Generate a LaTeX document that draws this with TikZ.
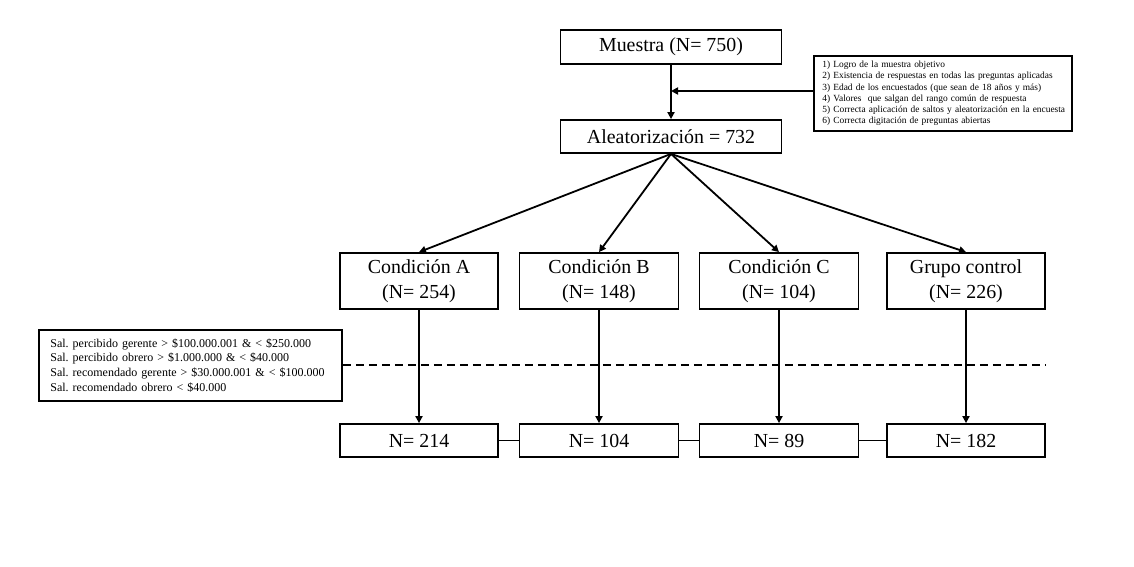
\documentclass[tikz,border=0pt]{standalone}
\usepackage{fontspec}
\setmainfont{Liberation Serif}
\usetikzlibrary{arrows.meta}
\frenchspacing
\begin{document}
\begin{tikzpicture}[x=1pt,y=-1pt,
  box/.style={draw,line width=1.8pt,inner sep=0pt,align=center,font=\fontsize{19.9}{25}\selectfont},
  note/.style={draw,line width=1.8pt,align=left,anchor=north west,inner ysep=0pt},
  arr/.style={line width=1.8pt,-{Triangle[length=7pt,width=7pt]}},
  lnk/.style={line width=1.8pt}]
\useasboundingbox (0,0) rectangle (1134,567);
\node[box,minimum width=221pt,minimum height=34pt] (m) at (671,47) {Muestra (N= 750)};
\node[box,minimum width=221pt,minimum height=33pt] (al) at (671,136.5) {Aleatorización = 732};
\node[note,minimum width=258pt,minimum height=75pt,inner xsep=8.5pt,text width=241pt,font=\fontsize{9.4}{11.2}\selectfont] (crit) at (813,55)
 {\mbox{1) Logro de la muestra objetivo}\\
 \mbox{2) Existencia de respuestas en todas las preguntas aplicadas}\\
 \mbox{3) Edad de los encuestados (que sean de 18 años y más)}\\
 \mbox{4) Valores \ que salgan del rango común de respuesta}\\
 \mbox{5) Correcta aplicación de saltos y aleatorización en la encuesta}\\
 \mbox{6) Correcta digitación de preguntas abiertas}};
\coordinate (j) at (671,91);
\draw[arr] (m.south) -- (al.north);
\draw[arr] (crit.west |- j) -- (j);
\node[box,minimum width=158pt,minimum height=56pt] (a) at (419,281) {Condición A\\(N= 254)};
\node[box,minimum width=159pt,minimum height=56pt] (b) at (599,281) {Condición B\\(N= 148)};
\node[box,minimum width=159pt,minimum height=56pt] (c) at (779,281) {Condición C\\(N= 104)};
\node[box,minimum width=158pt,minimum height=56pt] (d) at (966,281) {Grupo control\\(N= 226)};
\foreach \t in {a,b,c,d} \draw[arr] (al.south) -- (\t.north);
\node[box,minimum width=158pt,minimum height=33pt] (a2) at (419,440.5) {N= 214};
\node[box,minimum width=159pt,minimum height=33pt] (b2) at (599,440.5) {N= 104};
\node[box,minimum width=159pt,minimum height=33pt] (c2) at (779,440.5) {N= 89};
\node[box,minimum width=158pt,minimum height=33pt] (d2) at (966,440.5) {N= 182};
\foreach \t in {a,b,c,d} \draw[arr] (\t.south) -- (\t2.north);
\draw[lnk] (a2) -- (b2); \draw[lnk] (b2) -- (c2); \draw[lnk] (c2) -- (d2);
\node[note,minimum width=303pt,minimum height=71pt,inner xsep=11.5pt,text width=280pt,font=\fontsize{12}{14.7}\selectfont] (sal) at (38,329)
 {\mbox{Sal. percibido gerente > \$100.000.001 \& < \$250.000}\\
 \mbox{Sal. percibido obrero > \$1.000.000 \& < \$40.000}\\
 \mbox{Sal. recomendado gerente > \$30.000.001 \& < \$100.000}\\
 \mbox{Sal. recomendado obrero < \$40.000}};
\coordinate (dend) at (1046,365);
\draw[lnk,dash pattern=on 8pt off 5pt] (sal.east |- dend) -- (dend);
\end{tikzpicture}
\end{document}
